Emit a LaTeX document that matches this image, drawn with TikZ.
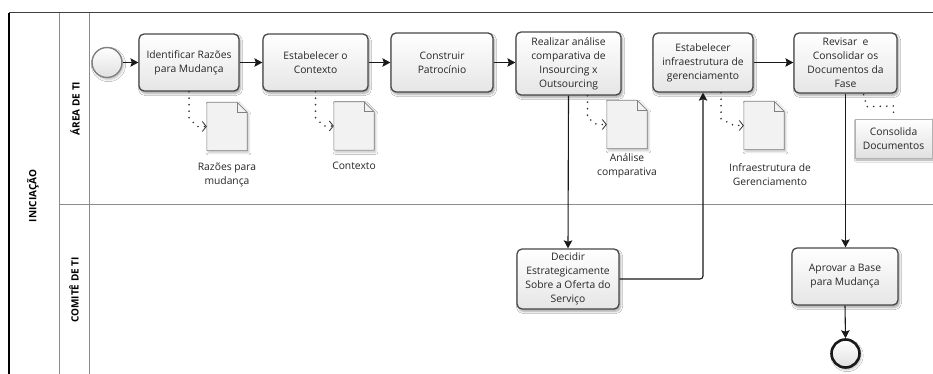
\documentclass[tikz,border=0pt]{standalone}
\usepackage{fontspec}
\setmainfont{Open Sans}
\usetikzlibrary{arrows.meta,shadows.blur,calc}

% page-style document symbol with a folded corner
\newcommand\docpage[1]{%
  \filldraw[docbody] (#1.south west) -- (#1.north west)
    -- ([xshift=-10pt]#1.north east) -- ([yshift=-10pt]#1.north east)
    -- (#1.south east) -- cycle;
  \draw[docfold] ([xshift=-10pt]#1.north east) |- ([yshift=-10pt]#1.north east);}

\begin{document}
\begin{tikzpicture}[x=1pt,y=-1pt,
  every node/.style={font=\fontsize{10.3}{14}\selectfont, text=black!85},
  laneline/.style={draw=black!45, line width=1pt},
  lanelabel/.style={font=\fontsize{10}{12}\bfseries, text=black, rotate=90},
  task/.style={draw=black!72, line width=1.3pt, rounded corners=5pt,
    top color=white, bottom color=black!10, align=center, inner sep=1pt,
    minimum width=102pt, minimum height=59pt,
    blur shadow={shadow xshift=1.5pt, shadow yshift=-2.5pt, shadow opacity=35, shadow blur steps=6}},
  flow/.style={draw=black!90, line width=1.1pt,
    -{Stealth[length=8pt,width=8.5pt,inset=1.5pt]}},
  assoc/.style={draw=black!80, line width=1.8pt, line cap=round,
    dash pattern=on 0pt off 6.5pt},
  assocarrow/.style={assoc, -{Straight Barb[length=4pt,width=10pt,line width=0.8pt,line cap=butt]}},
  docnode/.style={minimum width=40pt, minimum height=48pt, inner sep=0pt, draw=none},
  docbody/.style={draw=black!50, line width=0.6pt, fill=black!5,
    blur shadow={shadow xshift=1.5pt, shadow yshift=-2pt, shadow opacity=25, shadow blur steps=5}},
  docfold/.style={draw=black!50, line width=0.6pt},
  doclabel/.style={align=center},
  note/.style={draw=black!30, line width=0.6pt, top color=white, bottom color=black!12,
    align=center, minimum width=77pt, minimum height=39pt, inner sep=1pt,
    blur shadow={shadow xshift=1.5pt, shadow yshift=-2pt, shadow opacity=35, shadow blur steps=5}},
  event/.style={circle, inner sep=0pt, minimum size=29pt, top color=white, bottom color=black!12},
]
\useasboundingbox (0,0) rectangle (933,374);
\fill[white] (0,0) rectangle (933,374);

% pool and lanes
\draw[laneline, draw=black!75] (9,13) -- (933,13);
\draw[laneline] (59,13) -- (59,374);
\draw[laneline] (89,13) -- (89,374);
\draw[laneline] (59,204) -- (933,204);
\draw[draw=black, line width=1.3pt] (9,13) -- (9,374);

\node[lanelabel] (pool) at (33,196) {INICIAÇÃO};
\node[lanelabel] (laneA) at (75,108.5) {ÁREA DE TI};
\node[lanelabel] (laneB) at (74,290) {COMITÊ DE TI};

% events
\node[event, draw=black!50, line width=1.4pt, minimum size=30pt,
  blur shadow={shadow xshift=1.5pt, shadow yshift=-2pt, shadow opacity=25}] (start) at (107,62.5) {};
\node[event, draw=black!90, line width=2.6pt, minimum size=28pt,
  blur shadow={shadow xshift=1.5pt, shadow yshift=-2pt, shadow opacity=30}] (end) at (845.5,353.5) {};

% activities
\node[task, minimum width=100pt, minimum height=57pt] (t1) at (189,62.5) {Identificar Razões\\para Mudança};
\node[task, minimum width=105pt, minimum height=57pt] (t2) at (315.5,62.5) {Estabelecer o\\Contexto};
\node[task] (t3) at (442,62.5) {Construir\\Patrocínio};
\node[task, minimum width=105pt, minimum height=63pt] (t4) at (568.5,63.5) {Realizar análise\\comparativa de\\Insourcing x\\Outsourcing};
\node[task, minimum width=100pt] (t5) at (703,62.5) {Estabelecer\\infraestrutura de\\gerenciamento};
\node[task, minimum width=103pt, minimum height=60pt] (t6) at (845.5,63) {Revisar\ \ e\\Consolidar os\\Documentos da\\Fase};
\node[task, minimum height=60pt] (t7) at (568,279) {Decidir\\Estrategicamente\\Sobre a Oferta do\\Serviço};
\node[task, minimum width=106pt, minimum height=57pt] (t8) at (845,276.5) {Aprovar a Base\\para Mudança};

% data objects
\node[docnode] (d1) at (227,126.5) {};
\node[docnode] (d2) at (354,126) {};
\node[docnode] (d3) at (627,124.5) {};
\node[docnode] (d4) at (764,125.5) {};
\docpage{d1}
\docpage{d2}
\docpage{d3}
\docpage{d4}
\node[doclabel] (l1) at (227,174.5) {Razões para\\mudança};
\node[doclabel] (l2) at (354,166) {Contexto};
\node[doclabel] (l3) at (627,166) {Análise\\comparativa};
\node[doclabel] (l4) at (770,175) {Infraestrutura de\\Gerenciamento};

% text annotation
\node[note] (an) at (893.5,138.5) {Consolida\\Documentos};

% sequence flows
\draw[flow] (start) -- (t1.west);
\draw[flow] (t1.east) -- (t2.west);
\draw[flow] (t2.east) -- (t3.west);
\draw[flow] (t3.east) -- (t3.east -| t4.west);
\draw[flow] (t4.south) -- (t7.north);
\draw[flow, rounded corners=3pt] (t7.east) -| (t5.south);
\draw[flow] (t5.east) -- (t5.east -| t6.west);
\draw[flow] (t6.south) -- (t6.south |- t8.north);
\draw[flow] (t8.south) -- (end.north);

% associations
\draw[assocarrow] (t1.south) -- ++(0,26) -- ($(d1.west)+(-10,0)$) -- (d1.west);
\draw[assocarrow] (t2.south) -- ++(0,26) -- ($(d2.west)+(-10,0)$) -- (d2.west);
\draw[assocarrow] ($(t4.south)+(19,0)$) -- ++(0,22) -- ($(d3.west)+(-10,0)$) -- (d3.west);
\draw[assocarrow] ($(t5.south)+(18,0)$) -- ++(0,26) -- ($(d4.west)+(-10,0)$) -- (d4.west);
\draw[assoc] ($(t6.south east)+(-34,1)$) -- ++(3,12) -- (an.north |- 0,106) -- (an.north);
\end{tikzpicture}
\end{document}
